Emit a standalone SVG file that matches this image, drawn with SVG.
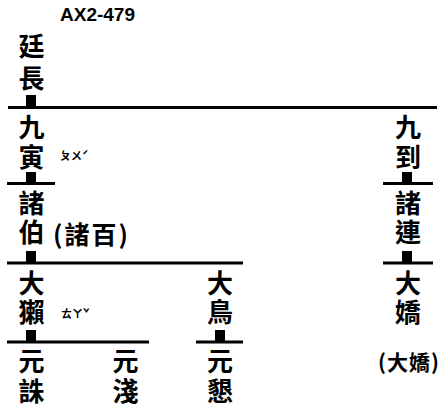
<svg xmlns="http://www.w3.org/2000/svg" width="442" height="412" viewBox="0 0 442 412">
<style>
.c{font-family:"Noto Sans CJK TC","Noto Sans CJK SC",sans-serif;font-weight:700;font-size:26px;fill:#000;text-anchor:middle;dominant-baseline:central}
.p{font-family:"Noto Sans CJK TC","Noto Sans CJK SC",sans-serif;font-weight:700;fill:#000;dominant-baseline:central}
.b{font-family:"Noto Sans CJK TC","Noto Sans CJK SC",sans-serif;font-weight:700;font-size:11px;fill:#000;dominant-baseline:central}
.t{font-family:"Liberation Sans",Arial,sans-serif;font-weight:700;font-size:19px;fill:#000}
.l{stroke:#000;stroke-width:3;fill:none}
.s{fill:#000}
</style>
<rect width="442" height="412" fill="#fff"/>
<text class="t" x="60" y="21">AX2-479</text>
<g id="connectors">
<rect class="s" x="26" y="95" width="10" height="12"/>
<line class="l" x1="8" y1="107.5" x2="437" y2="107.5"/>
<rect class="s" x="26" y="172" width="10" height="11"/>
<line class="l" x1="7" y1="183.5" x2="55" y2="183.5"/>
<rect class="s" x="402" y="172" width="10" height="11"/>
<line class="l" x1="383" y1="183.5" x2="433" y2="183.5"/>
<rect class="s" x="26" y="251" width="10" height="11"/>
<line class="l" x1="7" y1="263" x2="243" y2="263"/>
<rect class="s" x="402" y="251" width="10" height="11"/>
<line class="l" x1="383" y1="263" x2="433" y2="263"/>
<rect class="s" x="26" y="330" width="10" height="11"/>
<line class="l" x1="7" y1="342" x2="149" y2="342"/>
<rect class="s" x="215" y="330" width="10" height="11"/>
<line class="l" x1="196" y1="342" x2="243" y2="342"/>
</g>
<g id="n-tingchang"><text class="c" x="31.5" y="44.5">廷</text><text class="c" x="31.5" y="76">長</text></g>
<g id="n-jiuyin"><text class="c" x="31.5" y="125.5">九</text><text class="c" x="31.5" y="155">寅</text><text class="b" x="60" y="155">ㄆㄨˊ</text></g>
<g id="n-jiudao"><text class="c" x="408" y="125.5">九</text><text class="c" x="408" y="155">到</text></g>
<g id="n-zhubo"><text class="c" x="31.5" y="201">諸</text><text class="c" x="31.5" y="230.5">伯</text><text class="p" x="53" y="233" font-size="25" letter-spacing="2">(諸百)</text></g>
<g id="n-zhulian"><text class="c" x="408" y="201">諸</text><text class="c" x="408" y="230.5">連</text></g>
<g id="n-data"><text class="c" x="31.5" y="281">大</text><text class="c" x="31.5" y="310.5">獺</text><text class="b" x="61" y="313">ㄊㄚˇ</text></g>
<g id="n-daniao"><text class="c" x="220" y="281">大</text><text class="c" x="220" y="310.5">鳥</text></g>
<g id="n-dajiao"><text class="c" x="408" y="281">大</text><text class="c" x="408" y="310.5">嬌</text><text class="p" x="378" y="361" font-size="21" letter-spacing="1">(大嬌)</text></g>
<g id="n-yuanzhu"><text class="c" x="31.5" y="359.5">元</text><text class="c" x="31.5" y="389.5">誅</text></g>
<g id="n-yuanqian"><text class="c" x="125.5" y="359.5">元</text><text class="c" x="125.5" y="389.5">淺</text></g>
<g id="n-yuanken"><text class="c" x="220" y="359.5">元</text><text class="c" x="220" y="389.5">懇</text></g>
</svg>
